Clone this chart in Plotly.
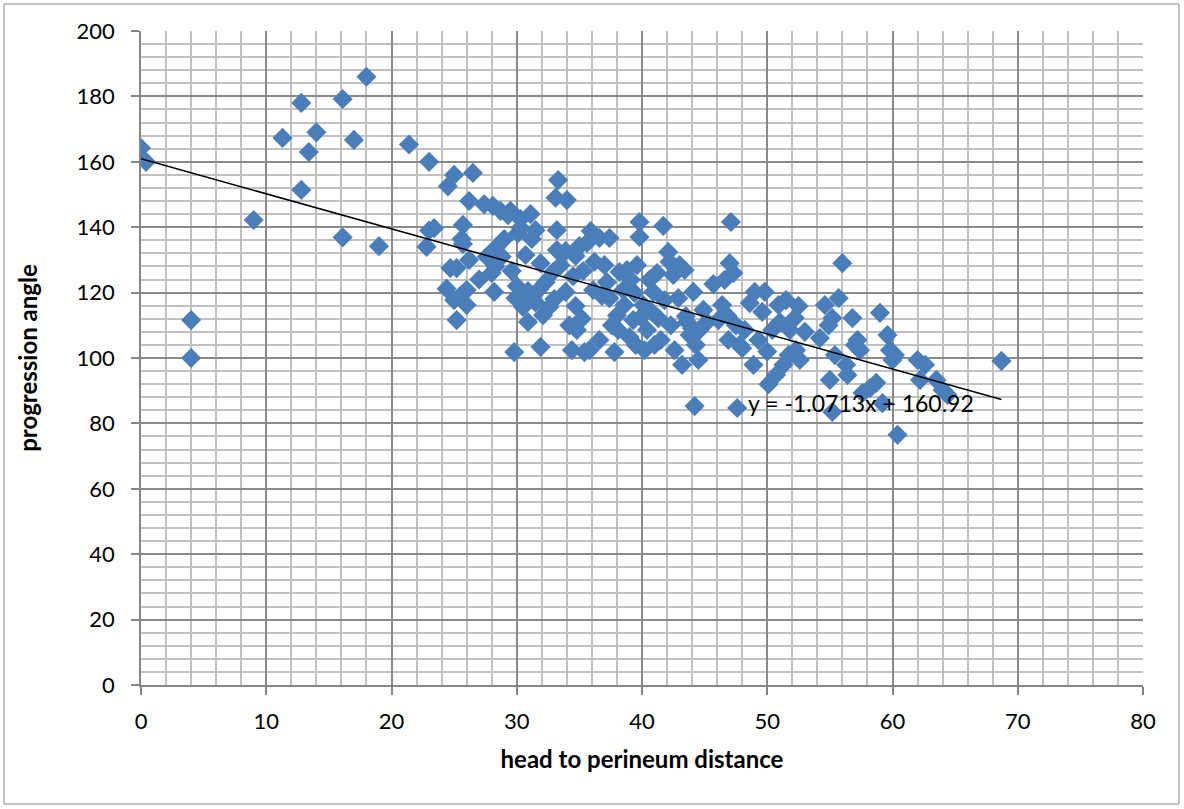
import plotly.graph_objects as go

# head to perineum distance (x) and progression angle (y)
distance = [
    0, 0.4, 4, 4, 9, 11.3, 12.8, 12.8, 13.4, 14, 16.1, 16.1, 17, 18, 19,
    21.4, 23, 22.8, 23, 23.4, 24.4, 24.5, 25, 24.7, 25.2, 25.2, 25, 25.5,
    25.7, 25.6, 25.7, 26, 26, 26.2, 26.5, 26.2, 27.4, 27.6, 28, 28.1, 28.2,
    28.4, 28.3, 28.7, 29, 29.3, 29.5, 29.6, 29.8, 29.9, 30.1, 30.3, 30.3,
    30.5, 30.7, 30.8, 30.9, 31.1, 31.2, 30.9, 31.5, 31.5, 31.9, 31.9, 32.1,
    32.3, 32.6, 32.9, 33.1, 33.3, 33.2, 33.2, 33.5, 33.9, 34, 33.9, 34.2,
    34.4, 34.7, 34.7, 34.8, 35, 35.3, 35.4, 35.6, 35.8, 35.9, 36.1, 36.2,
    36.6, 36.6, 37, 37.2, 37.4, 37.4, 37.8, 38.1, 37.6, 38.2, 38.5, 38.6,
    38.8, 39, 39.1, 39.3, 39.4, 39.6, 39.8, 39.8, 39.9, 40.1, 40.2, 40.4,
    40.6, 40.9, 41, 41.3, 41.5, 41.7, 41.8, 42.1, 42.2, 42.3, 42.5, 42.6,
    42.9, 43, 43.2, 43.4, 43.5, 43.8, 44.1, 44.2, 44.3, 44.5, 44.6, 44.9,
    45.7, 46.1, 46.4, 46.6, 46.9, 47.0, 47.1, 47.3, 47.5, 47.6, 47.8, 48.2,
    48.6, 48.9, 49, 49.3, 49.6, 49.8, 50.1, 50.4, 50.7, 50.9, 51.3, 51.5,
    51.7, 51.8, 52.2, 52.5, 52.6, 52.3, 54.2, 54.6, 54.9, 55, 55.2, 55.2,
    55.4, 55.7, 56, 56.3, 56.4, 56.8, 57, 57.2, 57.4, 57.6, 58.2, 58.7,
    59, 59.2, 59.6, 59.8, 60, 60.2, 60.4, 62, 62.2, 62.6, 63.5, 64, 64.4,
    68.7,
    # extra points filling the dense middle cluster
    27.0, 28.8, 30.0, 31.8, 33.0, 34.5, 35.2, 36.8, 38.0, 39.5, 40.8, 41.2,
    43.6, 44.0, 45.2, 46.8, 48.0, 50.0, 51.0, 53.0,
]
angle = [
    164.2, 160, 111.6, 100, 142.2, 167.3, 178, 151.4, 163, 169, 179.2, 136.9,
    166.7, 186, 134.2, 165.3, 160, 134, 139, 139.7, 121.2, 152.5, 156, 127.5,
    127.5, 111.6, 117.7, 119, 140.7, 136.4, 134.9, 120.8, 116.2, 130, 156.6,
    148, 147, 131, 126, 146.5, 120.2, 134, 128, 145, 136.4, 143.7, 145,
    126.6, 101.8, 118.3, 138.2, 139.8, 142.5, 115.6, 131.5, 117.7, 120.5,
    144, 136.4, 111, 139.1, 117, 103.4, 129, 113.1, 123.2, 115.6, 126.3,
    149, 154.4, 139.1, 133, 128.4, 120.2, 148.3, 132.7, 110, 102.4, 131.2,
    115.9, 108.6, 134.2, 126.6, 101.8, 135.2, 102.4, 138.8, 120.8, 129.4,
    136.7, 105.5, 128.4, 123.2, 136.7, 118.3, 101.8, 108.6, 110, 126.3,
    120.8, 116.2, 126.9, 106.4, 123.9, 111.6, 119.9, 128.4, 141.6, 137,
    112.5, 116.2, 102.4, 108.6, 123.9, 120.2, 104, 112.2, 105.5, 140.4,
    117.7, 132.4, 129.4, 110, 125.4, 102.4, 118.3, 128.4, 97.9, 126.9, 112.8,
    107, 120.2, 85.3, 104, 99.4, 108.6, 114.7, 122.6, 111.6, 116.2, 123.9,
    105.5, 129, 141.6, 126, 110, 84.7, 104, 108.6, 116.8, 97.9, 120.2, 105.5,
    114.1, 120.2, 92, 108.6, 94.8, 116.2, 97.9, 117.7, 100.9, 108.6, 112.2,
    115.9, 99.4, 102.4, 106.1, 116.2, 110, 93.3, 112.2, 83.5, 100.9, 118.3,
    129, 97.9, 94.8, 112.2, 104, 105.5, 102.4, 89.3, 90.8, 92.4, 113.8, 86.2,
    107, 102.4, 99.4, 100.9, 76.5, 99.4, 93.3, 97.9, 93.3, 90.2, 88.7, 99.1,
    124.0, 131.0, 122.0, 121.0, 118.0, 125.0, 112.0, 119.0, 113.0, 104.0,
    114.0, 126.0, 111.0, 109.0, 111.0, 113.0, 103.0, 102.0, 111.0, 108.0,
]

# linear trendline as printed on the chart
slope = -1.0713
intercept = 160.92
trend_x = [min(distance), max(distance)]
trend_y = [intercept + slope * v for v in trend_x]

x_ticks = [0, 10, 20, 30, 40, 50, 60, 70, 80]
y_ticks = [0, 20, 40, 60, 80, 100, 120, 140, 160, 180, 200]

font = "Lato, Open Sans, sans-serif"

fig = go.Figure()
fig.add_trace(go.Scatter(x=distance, y=angle, mode="markers",
                         marker=dict(symbol="diamond", size=15.5,
                                     color="#4A7EBB",
                                     line=dict(width=0)),
                         showlegend=False))
fig.add_trace(go.Scatter(x=trend_x, y=trend_y, mode="lines",
                         line=dict(color="black", width=1.5),
                         showlegend=False))

fig.add_annotation(x=trend_x[1] - 2, y=trend_y[1] - 1, xref="x", yref="y",
                   text="y = -1.0713x + 160.92", showarrow=False,
                   xanchor="right", yanchor="middle",
                   font=dict(family=font, size=23, color="black"))

# outer chart border
fig.add_shape(type="rect", xref="paper", yref="paper",
              x0=-0.1367, x1=1.0359, y0=-0.182, y1=1.0413,
              line=dict(color="#868686", width=1))

axis_common = dict(showline=True, linecolor="#868686", linewidth=1.5,
                   gridcolor="#8A8A8A", gridwidth=1.5, zeroline=False,
                   ticks="outside", ticklen=8, tickcolor="#868686",
                   tickwidth=1.5,
                   tickfont=dict(family=font, size=22, color="black"))

fig.update_layout(
    width=1184, height=809,
    margin=dict(l=141, r=41, t=31, b=124),
    paper_bgcolor="white", plot_bgcolor="white",
    xaxis=dict(range=[0, 80], tickvals=x_ticks, ticklabelstandoff=8,
               minor=dict(dtick=2, showgrid=True, gridcolor="#C0C0C0",
                          gridwidth=1.5),
               title=dict(text="<b>head to perineum distance</b>", standoff=18,
                          font=dict(family=font, size=24, color="black")),
               **axis_common),
    yaxis=dict(range=[0, 200], tickvals=y_ticks, ticklabelstandoff=12,
               minor=dict(dtick=4, showgrid=True, gridcolor="#C0C0C0",
                          gridwidth=1.5),
               title=dict(text="<b>progression angle</b>", standoff=32,
                          font=dict(family=font, size=24, color="black")),
               **axis_common),
)

fig.write_html("out.html", config={"displayModeBar": False},
               post_script="document.body.style.margin='0';")
